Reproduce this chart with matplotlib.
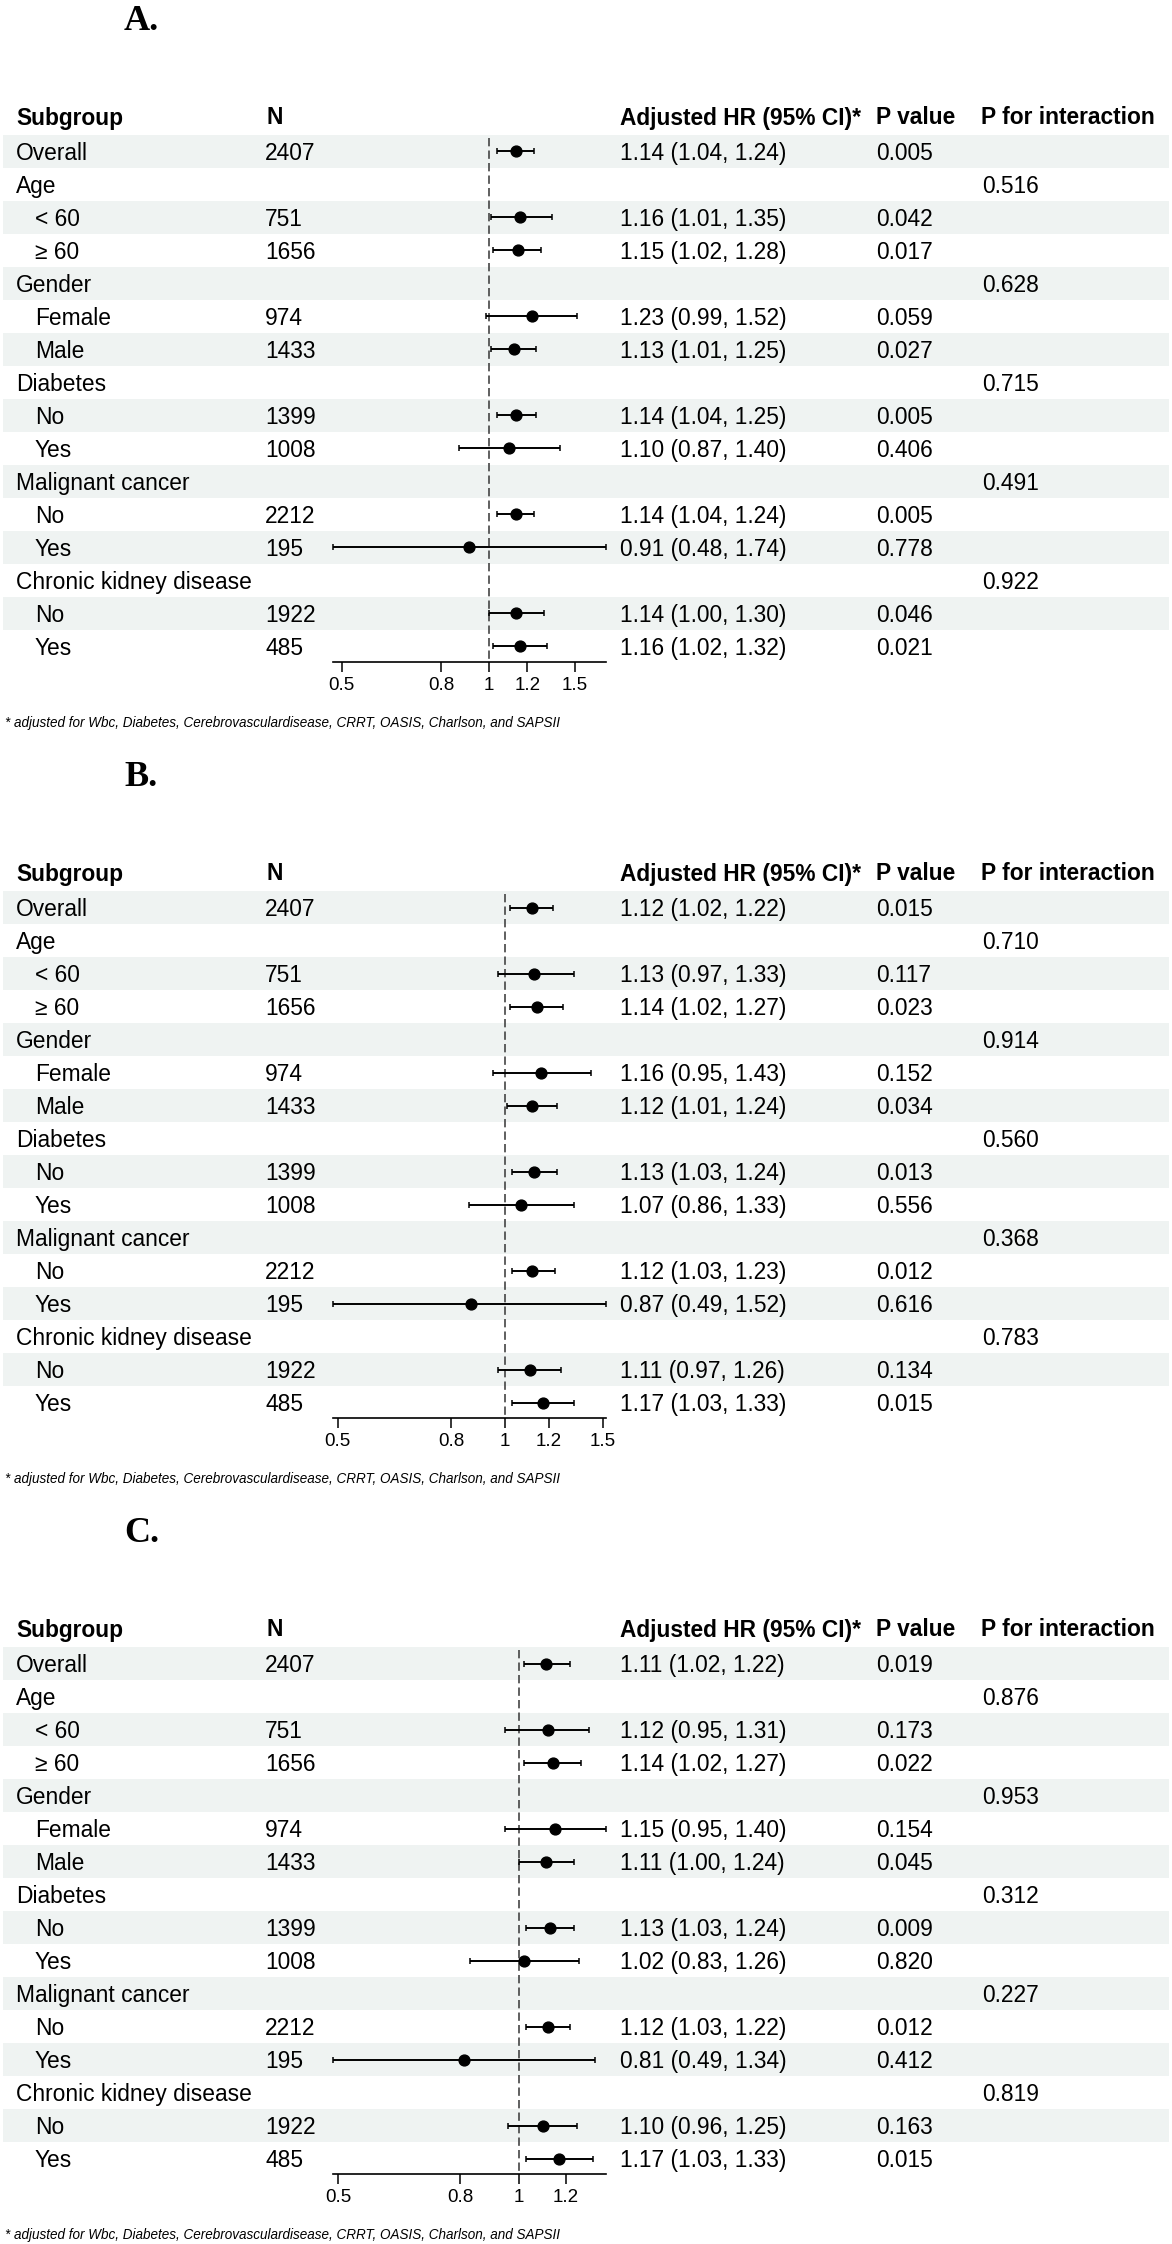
import matplotlib
matplotlib.use('Agg')
import matplotlib.pyplot as plt
from matplotlib.patches import Rectangle
from matplotlib.ticker import NullLocator
import numpy as np

W, H = 1172, 2244
SANS = 'Liberation Sans'
SERIF = 'Liberation Serif'

# ---- table data (same rows in all three panels) ----
subgroups = ["Overall", "Age", "< 60", "\u2265 60", "Gender", "Female", "Male",
             "Diabetes", "No", "Yes", "Malignant cancer", "No", "Yes",
             "Chronic kidney disease", "No", "Yes"]
indent = [0, 0, 1, 1, 0, 1, 1, 0, 1, 1, 0, 1, 1, 0, 1, 1]
n_counts = ["2407", "", "751", "1656", "", "974", "1433", "", "1399", "1008",
            "", "2212", "195", "", "1922", "485"]

nan = np.nan
# panel A
hr_a = [1.14, nan, 1.16, 1.15, nan, 1.23, 1.13, nan, 1.14, 1.10, nan, 1.14, 0.91, nan, 1.14, 1.16]
lo_a = [1.04, nan, 1.01, 1.02, nan, 0.99, 1.01, nan, 1.04, 0.87, nan, 1.04, 0.48, nan, 1.00, 1.02]
hi_a = [1.24, nan, 1.35, 1.28, nan, 1.52, 1.25, nan, 1.25, 1.40, nan, 1.24, 1.74, nan, 1.30, 1.32]
p_a = ["0.005", "", "0.042", "0.017", "", "0.059", "0.027", "", "0.005", "0.406",
       "", "0.005", "0.778", "", "0.046", "0.021"]
pint_a = ["", "0.516", "", "", "0.628", "", "", "0.715", "", "", "0.491", "", "", "0.922", "", ""]
ticks_a = [0.5, 0.8, 1, 1.2, 1.5]

# panel B
hr_b = [1.12, nan, 1.13, 1.14, nan, 1.16, 1.12, nan, 1.13, 1.07, nan, 1.12, 0.87, nan, 1.11, 1.17]
lo_b = [1.02, nan, 0.97, 1.02, nan, 0.95, 1.01, nan, 1.03, 0.86, nan, 1.03, 0.49, nan, 0.97, 1.03]
hi_b = [1.22, nan, 1.33, 1.27, nan, 1.43, 1.24, nan, 1.24, 1.33, nan, 1.23, 1.52, nan, 1.26, 1.33]
p_b = ["0.015", "", "0.117", "0.023", "", "0.152", "0.034", "", "0.013", "0.556",
       "", "0.012", "0.616", "", "0.134", "0.015"]
pint_b = ["", "0.710", "", "", "0.914", "", "", "0.560", "", "", "0.368", "", "", "0.783", "", ""]
ticks_b = [0.5, 0.8, 1, 1.2, 1.5]

# panel C
hr_c = [1.11, nan, 1.12, 1.14, nan, 1.15, 1.11, nan, 1.13, 1.02, nan, 1.12, 0.81, nan, 1.10, 1.17]
lo_c = [1.02, nan, 0.95, 1.02, nan, 0.95, 1.00, nan, 1.03, 0.83, nan, 1.03, 0.49, nan, 0.96, 1.03]
hi_c = [1.22, nan, 1.31, 1.27, nan, 1.40, 1.24, nan, 1.24, 1.26, nan, 1.22, 1.34, nan, 1.25, 1.33]
p_c = ["0.019", "", "0.173", "0.022", "", "0.154", "0.045", "", "0.009", "0.820",
       "", "0.012", "0.412", "", "0.163", "0.015"]
pint_c = ["", "0.876", "", "", "0.953", "", "", "0.312", "", "", "0.227", "", "", "0.819", "", ""]
ticks_c = [0.5, 0.8, 1, 1.2]

panels = [
    ("A.", hr_a, lo_a, hi_a, p_a, pint_a, ticks_a),
    ("B.", hr_b, lo_b, hi_b, p_b, pint_b, ticks_b),
    ("C.", hr_c, lo_c, hi_c, p_c, pint_c, ticks_c),
]

footnote = "* adjusted for Wbc, Diabetes, Cerebrovasculardisease, CRRT, OASIS, Charlson, and SAPSII"

# ---- layout (pixels) ----
PANEL_H = 756
ROW0, ROW_H = 151.5, 33.0
AX_TOP, AX_BOT = 134, 662
AX_L, AX_R = 333, 606
FS = 16.4
BAND = '#EFF3F2'


def fx(x):
    return x / W


def fy(y):
    return 1 - y / H


fig = plt.figure(figsize=(W / 100, H / 100), dpi=100)
fig.patch.set_facecolor('white')

for k, (title, hr, lo, hi, pv, pint, ticks) in enumerate(panels):
    off = k * PANEL_H

    fig.text(fx(124), fy(off + 29.5), title, fontsize=26, fontweight='bold',
             family=SERIF, va='baseline', ha='left')

    # header
    hb = off + 124.5
    for x, s in [(16, "Subgroup"), (266, "N"), (620, "Adjusted HR (95% CI)*"),
                 (876, "P value"), (981, "P for interaction")]:
        fig.text(fx(x), fy(hb), s, fontsize=FS, fontweight='bold', family=SANS,
                 va='baseline', ha='left')

    for i in range(len(subgroups)):
        yc = off + ROW0 + i * ROW_H
        if i % 2 == 0:
            fig.add_artist(Rectangle((fx(3), fy(yc + ROW_H / 2)), (1169 - 3) / W, ROW_H / H,
                                     transform=fig.transFigure, facecolor=BAND,
                                     edgecolor='none', zorder=-5))
        yb = yc + 8.3
        fig.text(fx(35 if indent[i] else 16), fy(yb), subgroups[i], fontsize=FS,
                 family=SANS, va='baseline')
        if n_counts[i]:
            fig.text(fx(265), fy(yb), n_counts[i], fontsize=FS, family=SANS, va='baseline')
        if not np.isnan(hr[i]):
            fig.text(fx(620), fy(yb), f"{hr[i]:.2f} ({lo[i]:.2f}, {hi[i]:.2f})",
                     fontsize=FS, family=SANS, va='baseline')
        if pv[i]:
            fig.text(fx(876), fy(yb), pv[i], fontsize=FS, family=SANS, va='baseline')
        if pint[i]:
            fig.text(fx(982), fy(yb), pint[i], fontsize=FS, family=SANS, va='baseline')

    # forest plot column
    ax = fig.add_axes([fx(AX_L), fy(off + AX_BOT), (AX_R - AX_L) / W, (AX_BOT - AX_TOP) / H])
    ax.patch.set_visible(False)
    hr_arr, lo_arr, hi_arr = np.array(hr), np.array(lo), np.array(hi)
    ok = ~np.isnan(hr_arr)
    ys = ROW0 + np.arange(len(subgroups)) * ROW_H
    ax.set_xscale('log')
    ax.set_xlim(np.nanmin(lo_arr), np.nanmax(hi_arr))
    ax.set_ylim(AX_BOT, AX_TOP)
    ax.vlines(1, 138, AX_BOT, colors='#444444', linestyles=(0, (5, 2.5)), lw=1.2, zorder=1)
    ax.errorbar(hr_arr[ok], ys[ok],
                xerr=[hr_arr[ok] - lo_arr[ok], hi_arr[ok] - hr_arr[ok]],
                fmt='o', color='black', ms=7.8, elinewidth=1.4, capsize=2.4,
                capthick=1.1, clip_on=False, zorder=3)
    ax.set_xticks(ticks)
    ax.set_xticklabels([f"{t:g}" for t in ticks], family=SANS)
    ax.xaxis.set_minor_locator(NullLocator())
    ax.set_yticks([])
    for sp in ['top', 'right', 'left']:
        ax.spines[sp].set_visible(False)
    ax.spines['bottom'].set_linewidth(1.2)
    ax.tick_params(axis='x', length=7.2, width=1.1, pad=3.5, labelsize=13.5)

    fig.text(fx(5), fy(off + 727), footnote, fontsize=9.75, style='italic',
             family=SANS, va='baseline', ha='left')

fig.savefig('out.png', dpi=100)
